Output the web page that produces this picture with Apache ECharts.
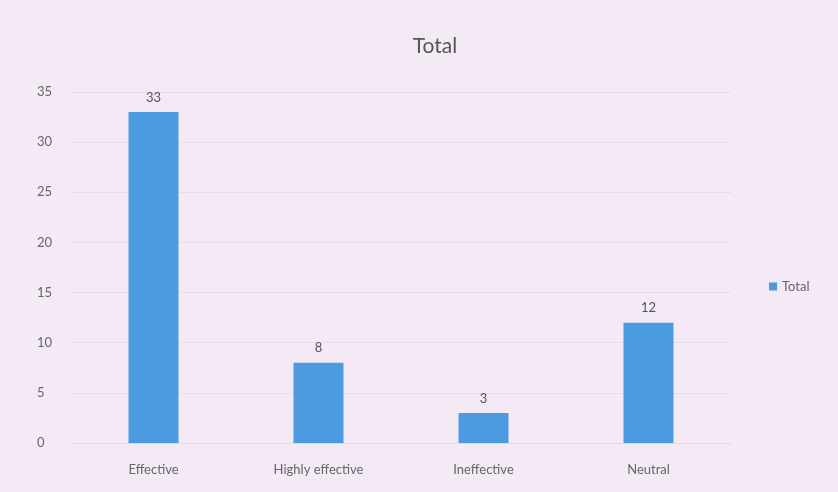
<!DOCTYPE html>
<html><head><meta charset="utf-8">
<script src="https://cdn.jsdelivr.net/npm/echarts@6/dist/echarts.min.js"></script>
<style>html,body{margin:0;padding:0;background:#f3eaf6;}#c{width:838px;height:492px;}</style>
</head><body><div id="c"></div>
<script>
const categories = ["Effective", "Highly effective", "Ineffective", "Neutral"];
const totalValues = [33, 8, 3, 12];
const yTicks = [0, 5, 10, 15, 20, 25, 30, 35];

const chart = echarts.init(document.getElementById('c'));
chart.setOption({
  backgroundColor: '#f3eaf6',
  textStyle: { fontFamily: 'Lato, "Open Sans", sans-serif' },
  title: {
    text: 'Total', left: 430, top: 31, textAlign: 'center',
    textStyle: { fontSize: 21, fontWeight: 'normal', color: '#555', fontFamily: 'Lato, sans-serif' }
  },
  legend: {
    data: ['Total'], orient: 'vertical', left: 764, top: 275,
    itemWidth: 8, itemHeight: 8, itemGap: 5, icon: 'rect',
    textStyle: { fontSize: 13, color: '#666' }
  },
  grid: { left: 71, right: 107, top: 92, bottom: 49, containLabel: false },
  xAxis: {
    type: 'category', data: categories,
    axisLine: { show: true, lineStyle: { color: '#e0d8e4' } },
    axisTick: { show: false },
    axisLabel: { color: '#666', fontSize: 13, margin: 20 }
  },
  yAxis: {
    type: 'value', min: yTicks[0], max: yTicks[yTicks.length - 1], interval: 5,
    axisLine: { show: false }, axisTick: { show: false },
    axisLabel: { color: '#666', fontSize: 13, margin: 34, align: 'left' },
    splitLine: { lineStyle: { color: '#e4dce8' } }
  },
  series: [{
    name: 'Total', type: 'bar', data: totalValues, barWidth: 50,
    itemStyle: { color: '#4c9be0' },
    label: { show: true, position: 'top', color: '#555', fontSize: 13, distance: 8 }
  }]
});
</script></body></html>
